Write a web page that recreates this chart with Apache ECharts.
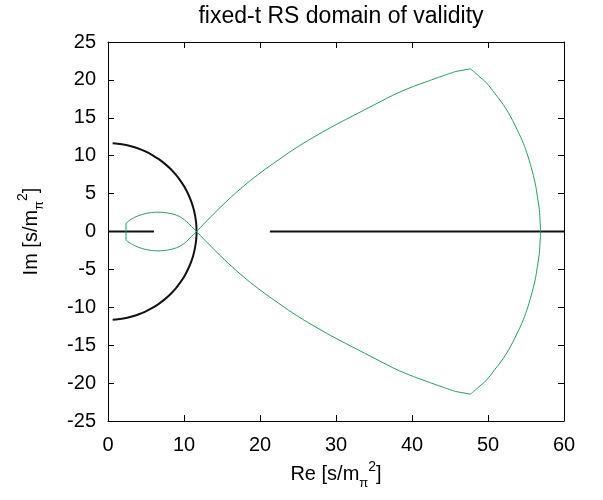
<!DOCTYPE html>
<html>
<head>
<meta charset="utf-8">
<script src="https://cdn.jsdelivr.net/npm/echarts@6/dist/echarts.min.js"></script>
<style>html,body{margin:0;padding:0;background:#fff}#c{width:603px;height:500px}</style>
</head>
<body>
<div id="c"></div>
<script>
// ---- data ----
var xTicks = [0, 10, 20, 30, 40, 50, 60];
var yTicks = [-25, -20, -15, -10, -5, 0, 5, 10, 15, 20, 25];

// black semicircle (|s| = const)
var semicircle = [
  [0.61, 11.63], [1.02, 11.61], [2.02, 11.47], [3.02, 11.25], [3.98, 10.95], [4.92, 10.56],
  [5.83, 10.09], [6.68, 9.54], [7.49, 8.92], [8.24, 8.24], [8.92, 7.49], [9.54, 6.68],
  [10.09, 5.83], [10.56, 4.92], [10.95, 3.98], [11.25, 3.02], [11.47, 2.02], [11.61, 1.02],
  [11.65, 0], [11.61, -1.02], [11.47, -2.02], [11.25, -3.02], [10.95, -3.98], [10.56, -4.92],
  [10.09, -5.83], [9.54, -6.68], [8.92, -7.49], [8.24, -8.24], [7.49, -8.92], [6.68, -9.54],
  [5.83, -10.09], [4.92, -10.56], [3.98, -10.95], [3.02, -11.25], [2.02, -11.47], [1.02, -11.61],
  [0.61, -11.63]
];
// black cuts along the real axis
var cutLeft = [[0, 0], [6.05, 0]];
var cutRight = [[21.3, 0], [60, 0]];

// small green lens
var lensUpper = [
  [2.37, 1.1], [3.2, 1.7], [4.2, 2.15], [5.4, 2.45], [6.6, 2.55], [7.8, 2.45], [9.0, 2.15],
  [9.7, 1.8], [10.35, 1.3], [11.0, 0.65], [11.65, 0]
];
var lensLower = [
  [2.37, -1.15], [3.2, -1.7], [4.2, -2.15], [5.4, -2.45], [6.6, -2.55], [7.8, -2.45], [9.0, -2.15],
  [9.7, -1.8], [10.35, -1.3], [11.0, -0.65], [11.65, 0]
];
var lensEdge = [[2.37, 1.1], [2.37, -1.15]];

// large green domain boundary
var branchUpper = [
  [11.65, 0], [13.0, 1.4], [15.0, 3.4], [17.5, 5.7], [20.0, 7.7], [22.5, 9.5], [25.0, 11.2],
  [27.5, 12.7], [30.0, 14.1], [32.5, 15.4], [35.0, 16.7], [38.4, 18.4], [42.0, 19.8],
  [45.7, 21.1]
];
var kinkUpper = [[45.7, 21.1], [47.7, 21.46]];
var arc = [
  [47.7, 21.46], [48.8, 20.5], [49.8, 19.6], [50.9, 18.2], [52.0, 16.75], [53.0, 15.1], [53.8, 13.5],
  [54.5, 12.0], [55.1, 10.4], [55.7, 8.4], [56.2, 6.4], [56.5, 4.6], [56.75, 2.9],
  [56.85, 1.4], [56.9, 0],
  [56.85, -1.4], [56.75, -2.9], [56.5, -4.6], [56.2, -6.4], [55.7, -8.4], [55.1, -10.4],
  [54.5, -12.0], [53.8, -13.5], [53.0, -15.1], [52.0, -16.75], [50.9, -18.2], [49.8, -19.6],
  [48.8, -20.5], [47.7, -21.46]
];
var kinkLower = [[47.7, -21.46], [45.7, -21.1]];
var branchLower = [
  [45.7, -21.1], [42.0, -19.8], [38.4, -18.4], [35.0, -16.7], [32.5, -15.4], [30.0, -14.1],
  [27.5, -12.7], [25.0, -11.2], [22.5, -9.5], [20.0, -7.7], [17.5, -5.7], [15.0, -3.4],
  [13.0, -1.4], [11.65, 0]
];

var FONT = 'Liberation Sans';
var GREEN = '#1ba55c';
var chart = echarts.init(document.getElementById('c'), null, {renderer: 'canvas'});
function axisCommon(extra) {
  var base = {
    type: 'value',
    axisLine: {show: true, onZero: false, lineStyle: {color: '#000', width: 1}},
    axisTick: {show: true, inside: true, length: 6, lineStyle: {color: '#000', width: 1}},
    splitLine: {show: false},
    axisLabel: {color: '#000', fontFamily: FONT, fontSize: 20}
  };
  return Object.assign(base, extra);
}
function greenSeries(data, smooth) {
  return {type: 'line', data: data, showSymbol: false, smooth: smooth,
    lineStyle: {color: GREEN, width: 1}, itemStyle: {color: GREEN}, z: 3};
}
function blackSeries(data, smooth) {
  return {type: 'line', data: data, showSymbol: false, smooth: smooth,
    lineStyle: {color: '#111', width: 2}, itemStyle: {color: '#111'}, z: 2};
}
var nameRich = {
  a: {fontFamily: FONT, fontSize: 20, color: '#000', lineHeight: 30, verticalAlign: 'middle'},
  s: {fontFamily: FONT, fontSize: 13, color: '#000', verticalAlign: 'bottom'},
  p: {fontFamily: FONT, fontSize: 14, color: '#000', verticalAlign: 'top'}
};
chart.setOption({
  animation: false,
  backgroundColor: '#fff',
  title: {
    text: 'fixed-t RS domain of validity',
    left: 336, top: 0, textAlign: 'center',
    textStyle: {fontFamily: FONT, fontSize: 23, fontWeight: 'normal', color: '#000'}
  },
  grid: {left: 108, right: 39, top: 42, bottom: 79, containLabel: false},
  xAxis: [
    axisCommon({min: 0, max: 60, interval: 10, position: 'bottom',
      axisLabel: {color: '#000', fontFamily: FONT, fontSize: 20, margin: 14,
        formatter: function (v) { return xTicks.indexOf(v) >= 0 ? String(v) : ''; }},
      name: '{a|Re [s/m}{s|π}{p|2}{a|]}', nameLocation: 'middle', nameGap: 36,
      nameTextStyle: {rich: nameRich}}),
    axisCommon({min: 0, max: 60, interval: 10, position: 'top', axisLabel: {show: false}})
  ],
  yAxis: [
    axisCommon({min: -25, max: 25, interval: 5, position: 'left',
      axisLabel: {color: '#000', fontFamily: FONT, fontSize: 20, margin: 12,
        formatter: function (v) { return yTicks.indexOf(v) >= 0 ? String(v) : ''; }},
      name: '{a|Im [s/m}{s|π}{p|2}{a|]}', nameLocation: 'middle', nameGap: 62, nameRotate: 90,
      nameTextStyle: {rich: nameRich}}),
    axisCommon({min: -25, max: 25, interval: 5, position: 'right', axisLabel: {show: false}})
  ],
  series: [
    greenSeries(branchUpper, 0.4),
    greenSeries(kinkUpper, false),
    greenSeries(arc, 0.4),
    greenSeries(kinkLower, false),
    greenSeries(branchLower, 0.4),
    greenSeries(lensUpper, 0.4),
    greenSeries(lensLower, 0.4),
    greenSeries(lensEdge, false),
    blackSeries(semicircle, 0.3),
    blackSeries(cutLeft, false),
    blackSeries(cutRight, false)
  ]
});
</script>
</body>
</html>
